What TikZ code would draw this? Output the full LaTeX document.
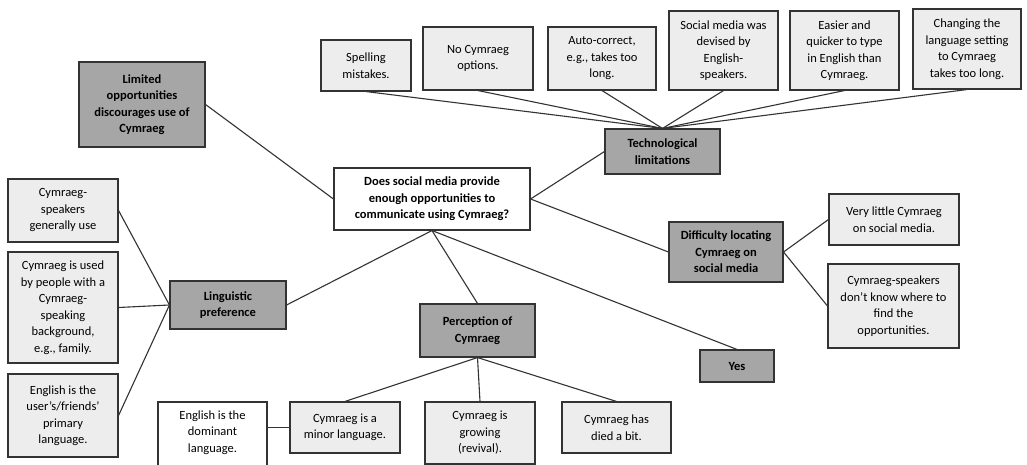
\documentclass[tikz,border=0pt]{standalone}
\usepackage{fontspec}
\setmainfont{Carlito}
\begin{document}
\begin{tikzpicture}[x=1pt,y=-1pt,
  box/.style={draw=black!80, line width=1.1pt, align=center, inner sep=2pt,
    font=\fontsize{12.5}{16.5}\selectfont},
  leaf/.style={box, fill=black!7},
  head/.style={box, fill=black!35, font=\fontsize{12.5}{16.5}\selectfont\bfseries},
  mainq/.style={box, fill=white, font=\fontsize{12.5}{16.5}\selectfont\bfseries},
  link/.style={draw=black!80, line width=1.1pt}]
\useasboundingbox (0,0) rectangle (1027,465);
\clip (0,0) rectangle (1027,465);
\fill[white] (0,0) rectangle (1027,465);

% top leaves
\node[leaf, minimum width=90, minimum height=51] (spell) at (366,65.5) {Spelling\\mistakes.};
\node[leaf, minimum width=110, minimum height=63] (nocym) at (478,58.5) {No Cymraeg\\options.};
\node[leaf, minimum width=108, minimum height=63] (auto) at (602,58.5) {Auto-correct,\\e.g., takes too\\long.};
\node[leaf, minimum width=109, minimum height=79] (social) at (723.5,50.5) {Social media was\\devised by\\English-\\speakers.};
\node[leaf, minimum width=109, minimum height=79] (easier) at (844.5,50.5) {Easier and\\quicker to type\\in English than\\Cymraeg.};
\node[leaf, minimum width=108, minimum height=80] (changing) at (967,49) {Changing the\\language setting\\to Cymraeg\\takes too long.};

% heads
\node[head, minimum width=115, minimum height=45] (tech) at (662.5,151.5) {Technological\\limitations};
\node[head, minimum width=126, minimum height=85] (limited) at (142,104.5) {Limited\\opportunities\\discourages use of\\Cymraeg};
\node[mainq, minimum width=196, minimum height=62] (main) at (432,199) {Does social media provide\\enough opportunities to\\communicate using Cymraeg?};
\node[head, minimum width=114, minimum height=60] (diff) at (726,252) {Difficulty locating\\Cymraeg on\\social media};
\node[head, minimum width=74, minimum height=32] (yes) at (737,366) {Yes};
\node[head, minimum width=116, minimum height=48] (ling) at (228,305) {Linguistic\\preference};
\node[head, minimum width=115, minimum height=53] (perc) at (477.5,330.5) {Perception of\\Cymraeg};

% right leaves
\node[leaf, minimum width=130, minimum height=51] (little) at (894,219.5) {Very little Cymraeg\\on social media.};
\node[leaf, minimum width=131, minimum height=84] (dontknow) at (893.5,306) {Cymraeg-speakers\\don't know where to\\find the\\opportunities.};

% left leaves
\node[leaf, minimum width=110, minimum height=63] (cs) at (63,210.5) {Cymraeg-\\speakers\\generally use};
\node[leaf, minimum width=110, minimum height=111] (used) at (63,307.5) {Cymraeg is used\\by people with a\\Cymraeg-\\speaking\\background,\\e.g., family.};
\node[leaf, minimum width=110, minimum height=83] (user) at (63,415.5) {English is the\\user's/friends'\\primary\\language.};

% bottom leaves
\node[box, fill=white, minimum width=109, minimum height=78, text depth=19pt] (dom) at (212.5,441) {English is the\\dominant\\language.};
\node[leaf, minimum width=110, minimum height=51] (minor) at (345,427.5) {Cymraeg is a\\minor language.};
\node[leaf, minimum width=110, minimum height=62] (growing) at (480,433) {Cymraeg is\\growing\\(revival).};
\node[leaf, minimum width=109, minimum height=51] (died) at (616.5,427.5) {Cymraeg has\\died a bit.};

% connectors
\foreach \n in {spell,nocym,auto,social,easier,changing}
  \draw[link] (tech.north) -- (\n.south);
\draw[link] (limited.east) -- (main.west);
\draw[link] (main.east) -- (tech.west);
\draw[link] (main.east) -- (diff.west);
\draw[link] (main.south) -- (ling.east);
\draw[link] (main.south) -- (perc.north);
\draw[link] (main.south) -- (yes.north);
\draw[link] (diff.east) -- (little.west);
\draw[link] (diff.east) -- (dontknow.west);
\foreach \n in {cs,used,user}
  \draw[link] (ling.west) -- (\n.east);
\foreach \n in {minor,growing,died}
  \draw[link] (perc.south) -- (\n.north);
\draw[link] (minor.west) -- (minor.west -| dom.east);
\end{tikzpicture}
\end{document}
